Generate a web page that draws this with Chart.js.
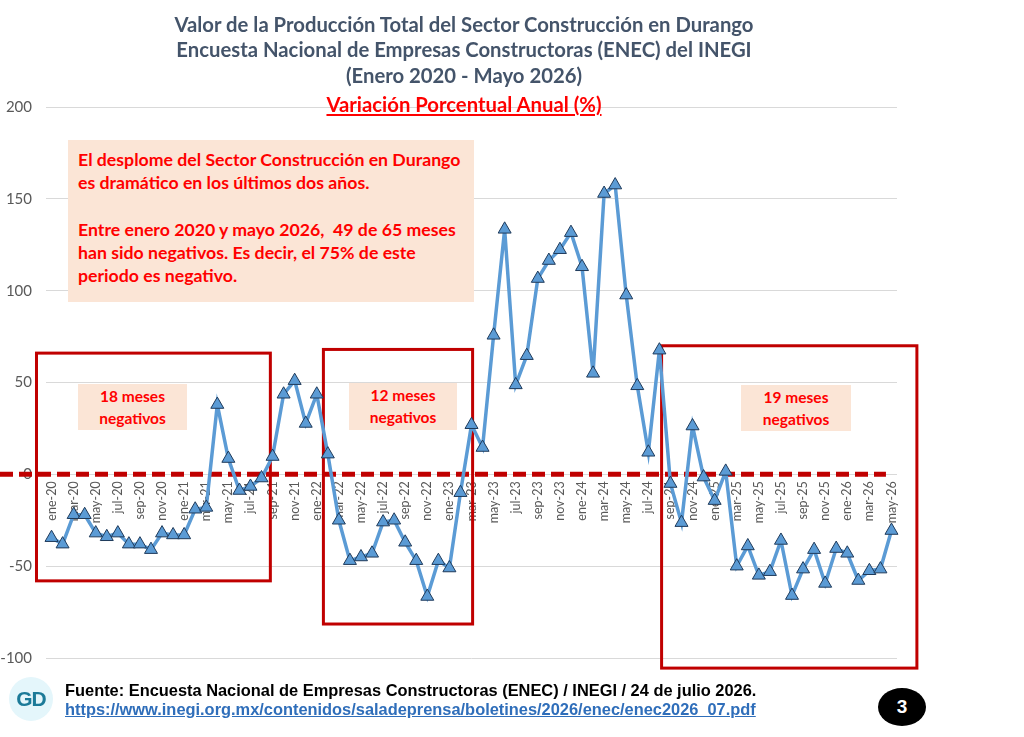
<!DOCTYPE html>
<html>
<head>
<meta charset="utf-8">
<script src="https://cdn.jsdelivr.net/npm/chart.js@4.4.1/dist/chart.umd.min.js"></script>
<style>
  body { margin:0; background:#fff; }
  #wrap { position:relative; width:1024px; height:737px; overflow:hidden; font-family:Lato, "Open Sans", sans-serif; }
  #grafica { position:absolute; left:0; top:0; }
  .titulo { position:absolute; left:0; width:928px; text-align:center; font-weight:bold; color:#44546A; font-size:20.3px; line-height:24px; }
  .rojo { color:#FF0000; text-decoration:underline; }
  .nota { position:absolute; background:#FBE5D6; color:#FF0000; font-weight:bold; }
  .meses { text-align:center; font-size:15.5px; line-height:22px; }
  #fuente { position:absolute; left:65px; top:681px; font-family:"Liberation Sans", Arial, sans-serif; font-weight:bold; font-size:16.4px; line-height:19px; white-space:nowrap; }
  #fuente a { color:#2F6EBA; }
  #logo { position:absolute; left:9px; top:677px; width:44px; height:44px; border-radius:50%; background:#E4F6FB; color:#1B7A98; font-family:"Liberation Sans", Arial, sans-serif; font-weight:bold; font-size:21px; line-height:44px; text-align:center; letter-spacing:-1px; }
  #pagina { position:absolute; left:878px; top:688px; width:48px; height:38px; border-radius:50%; background:#000; color:#fff; font-family:"Liberation Sans", Arial, sans-serif; font-weight:bold; font-size:19px; line-height:38px; text-align:center; }
</style>
</head>
<body>
<div id="wrap">
  <canvas id="grafica" width="1024" height="737"></canvas>
  <div class="titulo" style="top:12px">Valor de la Producción Total del Sector Construcción en Durango</div>
  <div class="titulo" style="top:37px">Encuesta Nacional de Empresas Constructoras (ENEC) del INEGI</div>
  <div class="titulo" style="top:63px">(Enero 2020 - Mayo 2026)</div>
  <div class="titulo" style="top:92px"><span class="rojo">Variación Porcentual Anual (%)</span></div>

  <div class="nota" style="left:68px; top:140px; width:396px; height:154px; padding:8px 0 0 10px; font-size:17.7px; line-height:23.3px; white-space:nowrap;">
    El desplome del Sector Construcción en Durango<br>es dramático en los últimos dos años.<br><br>Entre enero 2020 y mayo 2026,&nbsp; 49 de 65 meses<br>han sido negativos. Es decir, el 75% de este<br>periodo es negativo.
  </div>
  <div class="nota meses" style="left:78px; top:384px; width:109px; height:45px; padding-top:1px;">18 meses<br>negativos</div>
  <div class="nota meses" style="left:349px; top:383px; width:108px; height:46px; padding-top:1px;">12 meses<br>negativos</div>
  <div class="nota meses" style="left:741px; top:385px; width:110px; height:45px; padding-top:1px;">19 meses<br>negativos</div>

  <div id="logo">GD</div>
  <div id="fuente">Fuente: Encuesta Nacional de Empresas Constructoras (ENEC) / INEGI / 24 de julio 2026.<br><a href="#">https://www.inegi.org.mx/contenidos/saladeprensa/boletines/2026/enec/enec2026_07.pdf</a></div>
  <div id="pagina">3</div>
</div>

<script>
// meses (ene-20 ... may-26)
var etiquetas = [
  'ene-20','feb-20','mar-20','abr-20','may-20','jun-20','jul-20','ago-20','sep-20','oct-20','nov-20','dic-20',
  'ene-21','feb-21','mar-21','abr-21','may-21','jun-21','jul-21','ago-21','sep-21','oct-21','nov-21','dic-21',
  'ene-22','feb-22','mar-22','abr-22','may-22','jun-22','jul-22','ago-22','sep-22','oct-22','nov-22','dic-22',
  'ene-23','feb-23','mar-23','abr-23','may-23','jun-23','jul-23','ago-23','sep-23','oct-23','nov-23','dic-23',
  'ene-24','feb-24','mar-24','abr-24','may-24','jun-24','jul-24','ago-24','sep-24','oct-24','nov-24','dic-24',
  'ene-25','feb-25','mar-25','abr-25','may-25','jun-25','jul-25','ago-25','sep-25','oct-25','nov-25','dic-25',
  'ene-26','feb-26','mar-26','abr-26','may-26'
];

// variacion porcentual anual (%)
var variacion = [
  -34.5, -38, -22, -22, -32, -34, -32, -38, -38, -41, -32, -33,
  -33, -19, -18, 38, 8.6, -8.8, -6.6, -2, 9.7, 43.6, 51, 27.7,
  43.6, 11, -25, -47, -45, -43, -26, -25, -37, -47, -66.5, -47,
  -51, -10, 27, 14.6, 75.7, 133.4, 48.7, 64.6, 106.6, 116.4, 122.3, 131.6,
  113, 55, 152.9, 157.5, 97.6, 48.2, 12, 67.6, -5, -26.3, 26.3, -1.5,
  -14.3, 1.6, -50, -39, -55, -53, -36, -66, -51.6, -41, -59.4, -40.4,
  -43, -57.8, -52.5, -51.6, -30.6
];

var ticksY = [-100, -50, 0, 50, 100, 150, 200];

// recuadros rojos (en indice de mes / valor)
var recuadros = [
  {desde:-1.36, hasta:19.8, arriba:66, abajo:-58},
  {desde:24.6, hasta:38.1, arriba:68, abajo:-81.5},
  {desde:55.2, hasta:78.3, arriba:70, abajo:-105.5}
];

var marcas = {
  id: 'marcas',
  beforeDatasetsDraw: function(chart) {
    var ctx = chart.ctx, x = chart.scales.x, y = chart.scales.y;
    ctx.save();
    // linea de cero
    ctx.strokeStyle = '#C00000';
    ctx.lineWidth = 5;
    ctx.setLineDash([13, 6]);
    ctx.beginPath();
    ctx.moveTo(0, y.getPixelForValue(0));
    ctx.lineTo(x.getPixelForValue(75.5), y.getPixelForValue(0));
    ctx.stroke();
    ctx.setLineDash([]);
    ctx.lineWidth = 3;
    recuadros.forEach(function(r) {
      var x0 = x.getPixelForValue(r.desde), x1 = x.getPixelForValue(r.hasta);
      var y0 = y.getPixelForValue(r.arriba), y1 = y.getPixelForValue(r.abajo);
      ctx.strokeRect(x0, y0, x1 - x0, y1 - y0);
    });
    ctx.restore();
  }
};

var ctx = document.getElementById('grafica').getContext('2d');
var grafica = new Chart(ctx, {
  type: 'line',
  data: {
    labels: etiquetas,
    datasets: [{
      label: 'Variación',
      data: variacion,
      borderColor: '#5B9BD5',
      borderWidth: 3.5,
      backgroundColor: '#5B9BD5',
      pointStyle: 'triangle',
      pointRadius: 7.5,
      pointBorderColor: '#1F3A5A',
      pointBorderWidth: 1,
      pointBackgroundColor: '#5B9BD5',
      tension: 0
    }]
  },
  options: {
    responsive: false,
    devicePixelRatio: 1,
    animation: false,
    layout: { padding: { left: 0, right: 127, top: 107, bottom: 79 } },
    plugins: { legend: { display: false }, tooltip: { enabled: false } },
    scales: {
      x: {
        position: { y: 0 },
        offset: true,
        grid: { display: false, drawTicks: false },
        border: { display: false },
        ticks: {
          autoSkip: false,
          minRotation: 90,
          maxRotation: 90,
          padding: 7,
          color: '#595959',
          font: { family: 'Lato', size: 12.5 },
          callback: function(val, index) {
            return index % 2 === 0 ? this.getLabelForValue(val) : '';
          }
        }
      },
      y: {
        min: -100,
        max: 200,
        afterFit: function(scale) { scale.width = 46; },
        afterBuildTicks: function(scale) { scale.ticks = ticksY.map(function(v) { return {value: v}; }); },
        grid: { color: '#D9D9D9', drawTicks: false },
        border: { display: false },
        ticks: { padding: 14, color: '#595959', font: { family: 'Lato', size: 15 } }
      }
    }
  },
  plugins: [marcas]
});
</script>
</body>
</html>
